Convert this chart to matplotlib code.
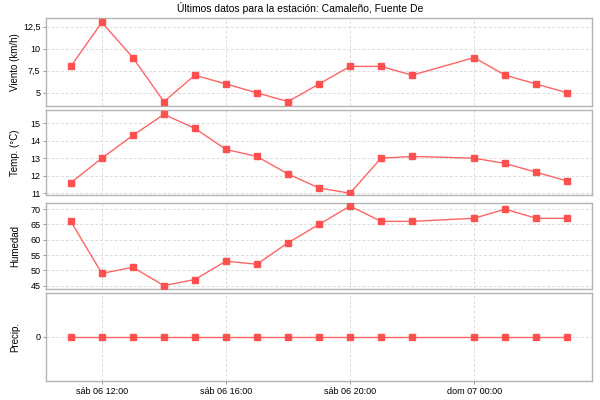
import pandas as pd
import numpy as np
import matplotlib
matplotlib.use('Agg')
import matplotlib.pyplot as plt
import matplotlib.dates as mdates
from matplotlib.ticker import FuncFormatter, FixedLocator

plt.rcParams['font.family'] = ['Liberation Sans', 'DejaVu Sans']

# horas de las mediciones (falta la de las 23:00)
horas = ['2012-10-06 11:00', '2012-10-06 12:00', '2012-10-06 13:00', '2012-10-06 14:00',
         '2012-10-06 15:00', '2012-10-06 16:00', '2012-10-06 17:00', '2012-10-06 18:00',
         '2012-10-06 19:00', '2012-10-06 20:00', '2012-10-06 21:00', '2012-10-06 22:00',
         '2012-10-07 00:00', '2012-10-07 01:00', '2012-10-07 02:00', '2012-10-07 03:00']

viento = [8, 13, 9, 4, 7, 6, 5, 4, 6, 8, 8, 7, 9, 7, 6, 5]
temp = [11.6, 13.0, 14.3, 15.5, 14.7, 13.5, 13.1, 12.1, 11.3, 11.0, 13.0, 13.1, 13.0, 12.7, 12.2, 11.7]
humedad = [66, 49, 51, 45, 47, 53, 52, 59, 65, 71, 66, 66, 67, 70, 67, 67]
precip = [0, 0, 0, 0, 0, 0, 0, 0, 0, 0, 0, 0, 0, 0, 0, 0]

etiquetas_y = ['Viento (km/h)', 'Temp. (°C)', 'Humedad', 'Precip.']
ticks_y = [[5, 7.5, 10, 12.5], [11, 12, 13, 14, 15], [45, 50, 55, 60, 65, 70], [0]]
limites_y = [(3.5, 13.5), (10.9, 15.75), (43.9, 72), (-1, 1)]

ticks_x = ['2012-10-06 12:00', '2012-10-06 16:00', '2012-10-06 20:00', '2012-10-07 00:00']
dias = {5: 'sáb', 6: 'dom'}

t = pd.to_datetime(horas)
series = [viento, temp, humedad, precip]

fig = plt.figure(figsize=(6, 4), dpi=100)
fig.text(0.5, 0.98, 'Últimos datos para la estación: Camaleño, Fuente De',
         ha='center', va='center', fontsize=7.5)

# posiciones de los paneles en pixeles (arriba, abajo)
paneles = [(18, 106), (110, 195), (203, 289), (293, 381)]
izq, der = 46, 592

x0 = pd.Timestamp('2012-10-06 10:12')
x1 = pd.Timestamp('2012-10-07 03:48')
tx = pd.to_datetime(ticks_x)

def fmt_fecha(v, pos):
    d = mdates.num2date(v)
    return '%s %02d %02d:%02d' % (dias[d.weekday()], d.day, d.hour, d.minute)

def fmt_num(v, pos):
    s = ('%g' % v)
    return s.replace('.', ',')

ejes = []
for i, (arriba, abajo) in enumerate(paneles):
    ax = fig.add_axes([izq / 600, 1 - abajo / 400, (der - izq) / 600, (abajo - arriba) / 400])
    ax.plot(t, series[i], color='#ff6464', lw=1, marker='s', markersize=5,
            markerfacecolor='#ff5050', markeredgecolor='#ff5050', zorder=3)
    ax.set_xlim(x0, x1)
    ax.set_ylim(*limites_y[i])
    ax.yaxis.set_major_locator(FixedLocator(ticks_y[i]))
    ax.yaxis.set_major_formatter(FuncFormatter(fmt_num))
    ax.xaxis.set_major_locator(FixedLocator(mdates.date2num(tx)))
    ax.xaxis.set_major_formatter(FuncFormatter(fmt_fecha))
    ax.grid(True, color='#dcdcdc', ls=(0, (3, 2)), lw=0.7)
    ax.set_axisbelow(True)
    for s in ax.spines.values():
        s.set_color('#b4b4b4')
        s.set_linewidth(1)
    ax.tick_params(axis='both', labelsize=6.5, length=2, width=0.6, color='#888888', pad=2)
    ax.set_ylabel(etiquetas_y[i], fontsize=7)
    ax.yaxis.set_label_coords(-0.047, 0.5)
    if i < 3:
        ax.tick_params(axis='x', labelbottom=False, length=0)
    ejes.append(ax)

plt.savefig('out.png', dpi=100)
